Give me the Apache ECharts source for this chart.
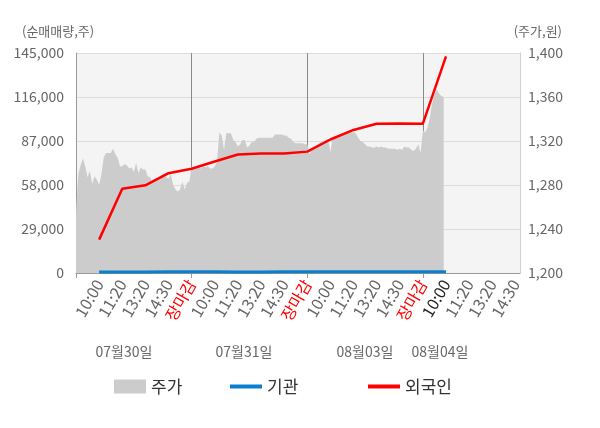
<!DOCTYPE html>
<html>
<head>
<meta charset="utf-8">
<script src="https://cdn.jsdelivr.net/npm/echarts@6/dist/echarts.min.js"></script>
<style>
html,body{margin:0;padding:0;background:#fff;}
#c{width:600px;height:428px;}
</style>
</head>
<body>
<div id="c"></div>
<script>
// ---- data ----
const days = ['07월30일', '07월31일', '08월03일', '08월04일'];
const slotLabels = ['10:00', '11:20', '13:20', '14:30', '장마감'];
const leftTicks = { min: 0, max: 145000, interval: 29000 };
const rightTicks = { min: 1200, max: 1400, interval: 40 };

// stock price (원), one value per sub-step (10 sub-steps per label slot)
const price = [
  1255,1290,1298,1304,1297,1287,1293,1281,1288,1285,
  1280,1290,1305,1309,1309,1309,1313,1308,1305,1297,
  1297,1299,1298,1295,1296,1292,1300,1291,1296,1294,
  1294,1288,1287,1283,1286,1284,1287,1288,1291,1287,
  1286,1290,1280,1276,1274,1276,1283,1276,1282,1283,
  1297,1294,1295,1296,1295,1297,1296,1297,1295,1295,
  1297,1301,1328,1325,1312,1327,1327,1327,1321,1319,
  1315,1317,1321,1321,1314,1316,1319,1319,1322,1323,
  1323,1323,1323,1323,1323,1323,1326,1326,1326,1326,
  1325,1325,1323,1322,1319,1318,1318,1318,1318,1317,
  1317,1308,1314,1315,1316,1318,1319,1320,1321,1322,
  1310,1323,1324,1325,1326,1326,1327,1328,1328,1328,
  1328,1327,1323,1320,1319,1317,1315,1315,1314,1314,
  1315,1314,1315,1314,1314,1313,1313,1313,1313,1312,
  1313,1312,1315,1314,1314,1312,1311,1313,1317,1309,
  1330,1328,1332,1341,1354,1362,1367,1363,1361,1360
];
// cumulative net buying (주), one value per label slot starting at 07/30 10:00
const foreign = [22000,55600,57800,65800,68700,73500,78100,78800,78700,80000,88000,94300,98400,98600,98400,142800];
const institution = [600,700,700,800,800,800,700,700,800,800,900,800,800,800,800,900];

// ---- build axis ----
const SUB = 10;
const N = 193;
const cats = [], labels = [];
for (let i = 0; i < N; i++) {
  cats.push('t' + i);
  let lab = '';
  if (i > 0 && i % SUB === 0) {
    const s = i / SUB;
    if (s <= 19) lab = slotLabels[(s - 1) % 5];
  }
  labels.push(lab);
}
function slotSeries(vals) {
  const arr = new Array(N).fill(null);
  vals.forEach((v, k) => { arr[(k + 1) * SUB] = v; });
  return arr;
}
const boundaries = [50, 100, 150];
const currentIdx = 160;

const FONT = '"Noto Sans CJK KR", "Noto Sans", sans-serif';
const chart = echarts.init(document.getElementById('c'), null, { renderer: 'canvas' });
chart.setOption({
  backgroundColor: '#ffffff',
  animation: false,
  textStyle: { fontFamily: FONT },
  grid: {
    left: 76, right: 80, top: 53, bottom: 155,
    show: true, backgroundColor: '#f4f4f4', borderWidth: 0
  },
  legend: [
    { data: ['주가'], left: 109, top: 373, itemWidth: 32, itemHeight: 14, icon: 'rect',
      textStyle: { fontSize: 17, color: '#333', fontFamily: FONT } },
    { data: ['기관'], left: 225, top: 373, itemWidth: 32, itemHeight: 4, icon: 'rect',
      textStyle: { fontSize: 17, color: '#333', fontFamily: FONT } },
    { data: ['외국인'], left: 363, top: 373, itemWidth: 32, itemHeight: 4, icon: 'rect',
      textStyle: { fontSize: 17, color: '#333', fontFamily: FONT } }
  ],
  xAxis: {
    type: 'category',
    data: cats,
    boundaryGap: false,
    axisLine: { show: true, lineStyle: { color: '#999', width: 1 } },
    axisTick: {
      show: true, length: 5, lineStyle: { color: '#999' },
      interval: (i) => i === 0 || boundaries.indexOf(i) >= 0
    },
    splitLine: {
      show: true, lineStyle: { color: '#888', width: 1 },
      interval: (i) => boundaries.indexOf(i) >= 0
    },
    axisLabel: {
      interval: (i) => labels[i] !== '',
      rotate: 60,
      margin: 8,
      fontSize: 16,
      fontFamily: FONT,
      color: '#666',
      formatter: (v, i) => {
        const l = labels[i];
        if (l === '장마감') return '{r|' + l + '}';
        if (i === currentIdx) return '{b|' + l + '}';
        return l;
      },
      rich: {
        r: { color: '#ff0000', fontSize: 16, fontFamily: FONT },
        b: { color: '#222', fontSize: 16, fontFamily: FONT }
      }
    }
  },
  yAxis: [
    {
      type: 'value', position: 'left',
      min: leftTicks.min, max: leftTicks.max, interval: leftTicks.interval,
      axisLine: { show: true, lineStyle: { color: '#999' } },
      axisTick: { show: false },
      splitLine: { show: true, lineStyle: { color: '#dcdcdc' } },
      axisLabel: { fontSize: 14, color: '#666', margin: 12, fontFamily: FONT,
        formatter: (v) => v.toLocaleString('en-US') }
    },
    {
      type: 'value', position: 'right',
      min: rightTicks.min, max: rightTicks.max, interval: rightTicks.interval,
      axisLine: { show: true, lineStyle: { color: '#d0d0d0' } },
      axisTick: { show: false },
      splitLine: { show: false },
      axisLabel: { fontSize: 14, color: '#666', margin: 8, fontFamily: FONT,
        formatter: (v) => v.toLocaleString('en-US') }
    }
  ],
  graphic: [
    { type: 'text', left: 22, top: 25, style: { text: '(순매매량,주)', fontSize: 13, fill: '#666', fontFamily: FONT } },
    { type: 'text', right: 38, top: 25, style: { text: '(주가,원)', fontSize: 13, fill: '#666', fontFamily: FONT } }
  ].concat(days.map((d, k) => ({
    type: 'text', x: [124, 244, 365, 440][k], y: 352,
    style: { text: d, fontSize: 14, fill: '#666', fontFamily: FONT, align: 'center', verticalAlign: 'middle' }
  }))),
  series: [
    {
      name: '주가', type: 'line', yAxisIndex: 1, data: price,
      showSymbol: false, symbol: 'none',
      lineStyle: { width: 0, color: '#cccccc' },
      itemStyle: { color: '#cccccc' },
      areaStyle: { color: '#cccccc', opacity: 1, origin: 'start' },
      z: 1
    },
    {
      name: '기관', type: 'line', yAxisIndex: 0, data: slotSeries(institution),
      connectNulls: true, showSymbol: false, symbol: 'none',
      lineStyle: { width: 3, color: '#0a7fd0' }, itemStyle: { color: '#0a7fd0' },
      z: 3
    },
    {
      name: '외국인', type: 'line', yAxisIndex: 0, data: slotSeries(foreign),
      connectNulls: true, showSymbol: false, symbol: 'none',
      lineStyle: { width: 2.5, color: '#ff0000' }, itemStyle: { color: '#ff0000' },
      z: 4
    }
  ]
});
</script>
</body>
</html>
